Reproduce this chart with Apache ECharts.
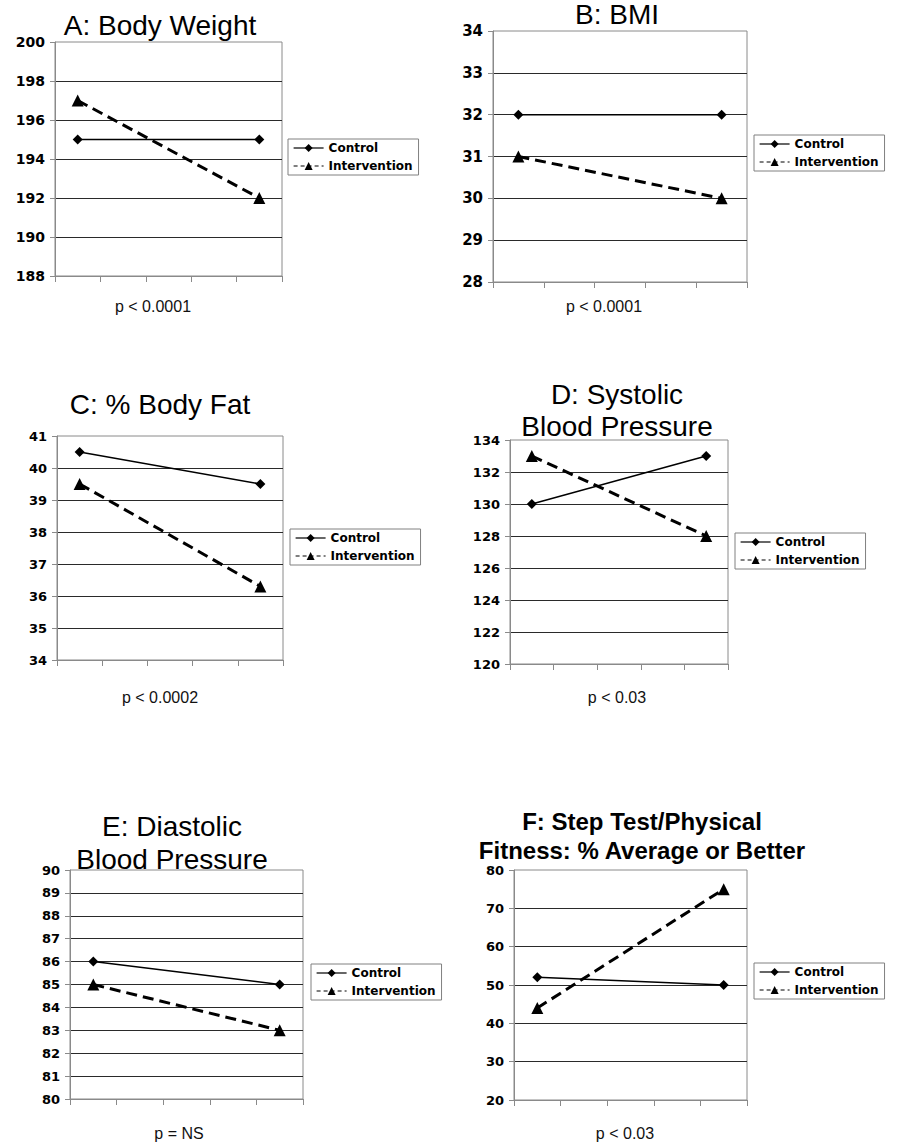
<!DOCTYPE html>
<html>
<head>
<meta charset="utf-8">
<script src="https://cdn.jsdelivr.net/npm/echarts@6/dist/echarts.min.js"></script>
<style>
html,body{margin:0;padding:0;background:#fff;}
#chart{width:906px;height:1143px;}
</style>
</head>
<body>
<div id="chart"></div>
<script>
// ---- data ----
const seriesNames = ['Control', 'Intervention'];
const visitX = [0.5, 4.5];
const panelTitles = ['A: Body Weight', 'B: BMI', 'C: % Body Fat', 'D: Systolic\nBlood Pressure', 'E: Diastolic\nBlood Pressure', 'F: Step Test/Physical\nFitness: % Average or Better'];
const pValues = ['p < 0.0001', 'p < 0.0001', 'p < 0.0002', 'p < 0.03', 'p = NS', 'p < 0.03'];
const controlValues = [[195, 195], [32, 32], [40.5, 39.5], [130, 133], [86, 85], [52, 50]];
const interventionValues = [[197, 192], [31, 30], [39.5, 36.3], [133, 128], [85, 83], [44, 75]];
const yMin = [188, 28, 34, 120, 80, 20];
const yMax = [200, 34, 41, 134, 90, 80];
const yInterval = [2, 1, 1, 2, 1, 10];

// ---- layout (pixels) ----
const grids = [
  {left: 55, top: 42, width: 227, height: 234},
  {left: 493, top: 31, width: 254, height: 251},
  {left: 57, top: 436, width: 226, height: 224},
  {left: 510, top: 440, width: 218, height: 224},
  {left: 70, top: 870, width: 233, height: 229},
  {left: 514, top: 870, width: 233, height: 230}
];
const titlePos = [
  {cx: 160, cy: 25, lh: 32, size: 28, bold: false},
  {cx: 617, cy: 14, lh: 26, size: 28, bold: false},
  {cx: 160, cy: 404, lh: 32, size: 28, bold: false},
  {cx: 617, cy: 394, lh: 32, size: 28, bold: false},
  {cx: 172, cy: 826, lh: 33, size: 28, bold: false},
  {cx: 642, cy: 821, lh: 29, size: 24, bold: true}
];
const pPos = [
  {cx: 153, cy: 306}, {cx: 604, cy: 306}, {cx: 160, cy: 697},
  {cx: 617, cy: 697}, {cx: 179, cy: 1133}, {cx: 625, cy: 1133}
];
const legendPos = [
  {left: 288, top: 139}, {left: 754, top: 135}, {left: 290, top: 529},
  {left: 735, top: 533}, {left: 311, top: 964}, {left: 754, top: 963}
];
const labelSize = [14, 15, 13, 13, 13, 13];

const chart = echarts.init(document.getElementById('chart'), null, {renderer: 'svg'});

const option = {
  backgroundColor: '#fff',
  animation: false,
  title: [],
  legend: [],
  grid: [],
  xAxis: [],
  yAxis: [],
  series: []
};

for (let i = 0; i < 6; i++) {
  const t = titlePos[i];
  option.title.push({
    text: panelTitles[i],
    left: t.cx, top: t.cy - t.lh / 2,
    textAlign: 'center', textVerticalAlign: 'top', padding: 0,
    textStyle: {fontFamily: 'Liberation Sans, Arial, sans-serif', fontSize: t.size,
      fontWeight: t.bold ? 'bold' : 'normal', color: '#000', lineHeight: t.lh}
  });
  const p = pPos[i];
  option.title.push({
    text: pValues[i],
    left: p.cx, top: p.cy - 9,
    textAlign: 'center', textVerticalAlign: 'top', padding: 0,
    textStyle: {fontFamily: 'Liberation Sans, Arial, sans-serif', fontSize: 16,
      fontWeight: 'normal', color: '#111', lineHeight: 18}
  });
  option.grid.push(Object.assign({show: true, borderColor: '#8a8a8a', borderWidth: 1, backgroundColor: 'transparent'}, grids[i]));
  option.xAxis.push({
    type: 'value', gridIndex: i, min: 0, max: 5, interval: 1,
    axisLabel: {show: false},
    axisLine: {show: true, lineStyle: {color: '#8a8a8a', width: 1}},
    axisTick: {show: true, inside: false, length: 6, lineStyle: {color: '#8a8a8a'}},
    splitLine: {show: false}
  });
  option.yAxis.push({
    type: 'value', gridIndex: i, min: yMin[i], max: yMax[i], interval: yInterval[i],
    axisLabel: {show: true, margin: 10, fontFamily: 'DejaVu Sans, Verdana, sans-serif',
      fontWeight: 'bold', fontSize: labelSize[i], color: '#000'},
    axisLine: {show: true, lineStyle: {color: '#8a8a8a', width: 1}},
    axisTick: {show: true, inside: false, length: 5, lineStyle: {color: '#8a8a8a'}},
    splitLine: {show: true, showMinLine: false, showMaxLine: false, lineStyle: {color: '#2a2a2a', width: 1}}
  });
  option.series.push({
    name: seriesNames[0], type: 'line', xAxisIndex: i, yAxisIndex: i,
    data: visitX.map((x, k) => [x, controlValues[i][k]]),
    symbol: 'diamond', symbolSize: 10,
    lineStyle: {color: '#000', width: 1.5, type: 'solid'},
    itemStyle: {color: '#000'}
  });
  option.series.push({
    name: seriesNames[1], type: 'line', xAxisIndex: i, yAxisIndex: i,
    data: visitX.map((x, k) => [x, interventionValues[i][k]]),
    symbol: 'triangle', symbolSize: 12,
    lineStyle: {color: '#000', width: 3, type: [11, 6]},
    itemStyle: {color: '#000'}
  });
  option.legend.push({
    orient: 'vertical',
    left: legendPos[i].left, top: legendPos[i].top,
    itemWidth: 30, itemHeight: 10, itemGap: 6,
    padding: [3, 6, 3, 5],
    borderColor: '#808080', borderWidth: 1, backgroundColor: '#fff',
    selectedMode: false,
    data: [
      {name: seriesNames[0], lineStyle: {width: 1.2, type: 'solid'}},
      {name: seriesNames[1], lineStyle: {width: 1.2, type: [4, 3]}}
    ],
    textStyle: {fontFamily: 'DejaVu Sans, Verdana, sans-serif', fontWeight: 'bold', fontSize: 12, color: '#000'}
  });
}

chart.setOption(option);
</script>
</body>
</html>
